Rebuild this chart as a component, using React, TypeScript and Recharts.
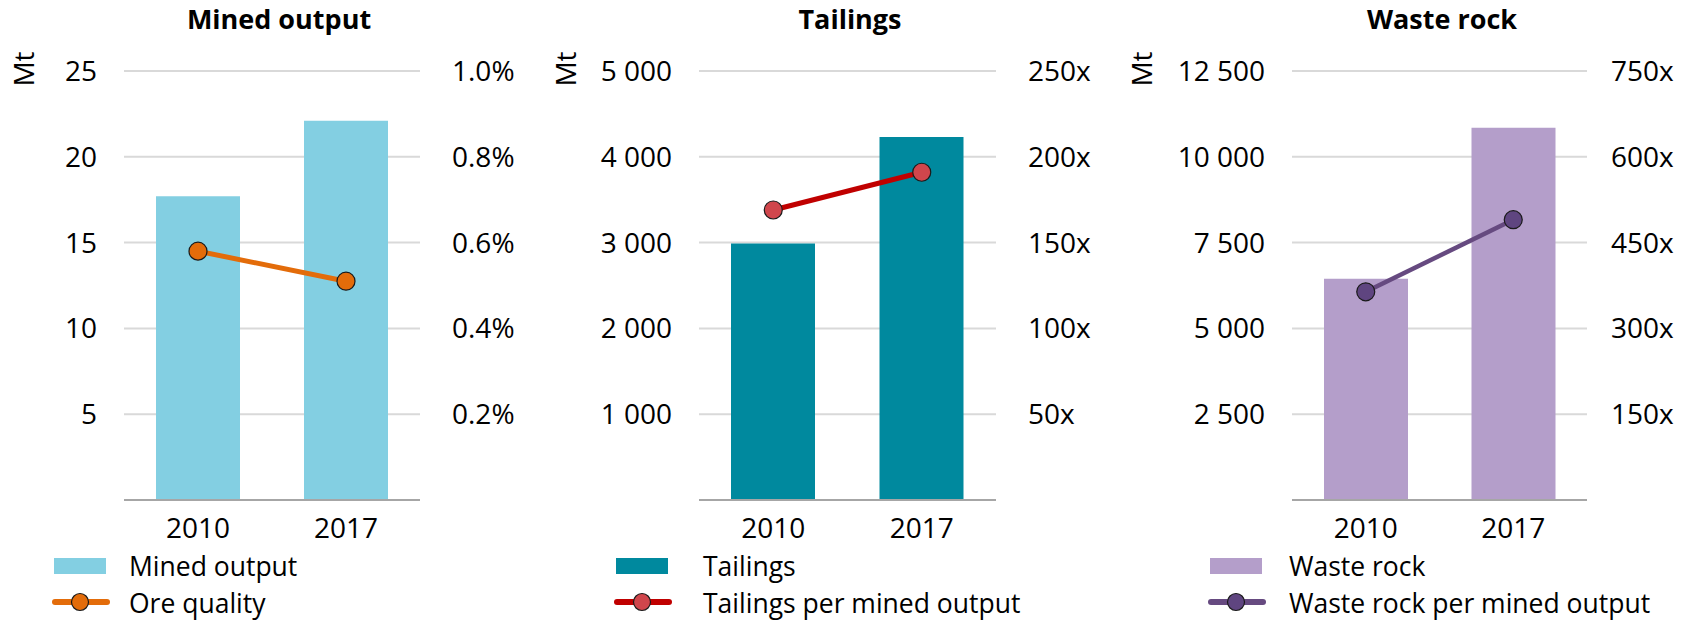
import React from "react";
import { ComposedChart, Bar, Line, XAxis, YAxis, CartesianGrid } from "recharts";

const years = ["2010", "2017"];
const minedOutput = [17.7, 22.1];
const oreQuality = [0.58, 0.51];
const tailings = [2990, 4230];
const tailingsPerOutput = [169, 191];
const wasteRock = [6450, 10850];
const wastePerOutput = [364, 490];

const minedTicks = [0, 5, 10, 15, 20, 25];
const qualityTicks = [0.2, 0.4, 0.6, 0.8, 1.0];
const tailingsTicks = [0, 1000, 2000, 3000, 4000, 5000];
const tailingsRatioTicks = [50, 100, 150, 200, 250];
const wasteTicks = [0, 2500, 5000, 7500, 10000, 12500];
const wasteRatioTicks = [150, 300, 450, 600, 750];

const FONT = "'Open Sans', 'Noto Sans', sans-serif";
const FS = 28;
const LEGEND_FS = 26.5;

const spaced = (v: number) =>
  v === 0 ? "" : String(v).replace(/\B(?=(\d{3})+(?!\d))/g, " ");

type PanelProps = {
  left: number;
  width: number;
  leftAxisW: number;
  rightAxisW: number;
  rightGap: number;
  bars: number[];
  line: number[];
  barColor: string;
  lineColor: string;
  dotColor: string;
  lineWidth: number;
  leftTicks: number[];
  rightTicks: number[];
  rightFmt: (v: number) => string;
};

function Panel(p: PanelProps) {
  const data = years.map((y, i) => ({ year: y, bar: p.bars[i], line: p.line[i] }));
  const leftMax = p.leftTicks[p.leftTicks.length - 1];
  const rightMax = p.rightTicks[p.rightTicks.length - 1];
  return (
    <div style={{ position: "absolute", left: p.left, top: 0 }}>
      <ComposedChart
        width={p.width}
        height={621}
        data={data}
        margin={{ top: 71, right: 0, bottom: 81, left: 0 }}
      >
        <CartesianGrid
          vertical={false}
          yAxisId="left"
          stroke="#d9d9d9"
          strokeWidth={2}
        />
        <XAxis
          dataKey="year"
          height={40}
          tickLine={false}
          tickSize={0}
          tickMargin={18}
          axisLine={{ stroke: "#a6a6a6", strokeWidth: 2 }}
          tick={{ fill: "#000", fontSize: FS }}
        />
        <YAxis
          yAxisId="left"
          width={p.leftAxisW}
          domain={[0, leftMax]}
          ticks={p.leftTicks}
          tickFormatter={spaced}
          axisLine={false}
          tickLine={false}
          tickSize={0}
          tickMargin={27}
          interval={0}
          tick={{ fill: "#000", fontSize: FS }}
        />
        <YAxis
          yAxisId="right"
          orientation="right"
          width={p.rightAxisW}
          domain={[0, rightMax]}
          ticks={p.rightTicks}
          tickFormatter={p.rightFmt}
          axisLine={false}
          tickLine={false}
          tickSize={0}
          tickMargin={p.rightGap}
          interval={0}
          tick={{ fill: "#000", fontSize: FS, textAnchor: "start" }}
        />
        <Bar
          yAxisId="left"
          dataKey="bar"
          fill={p.barColor}
          barSize={84}
          isAnimationActive={false}
        />
        <Line
          yAxisId="right"
          dataKey="line"
          stroke={p.lineColor}
          strokeWidth={p.lineWidth}
          dot={{ r: 9, fill: p.dotColor, stroke: "#1a1a1a", strokeWidth: 1.2 }}
          activeDot={false}
          isAnimationActive={false}
        />
      </ComposedChart>
    </div>
  );
}

type LegendProps = {
  x: number;
  textX: number;
  barColor: string;
  lineColor: string;
  dotColor: string;
  barLabel: string;
  lineLabel: string;
};

function LegendBlock(l: LegendProps) {
  return (
    <g>
      <rect x={l.x} y={558} width={52} height={16} fill={l.barColor} />
      <text x={l.textX} y={576} fontSize={LEGEND_FS} fill="#000">
        {l.barLabel}
      </text>
      <line
        x1={l.x + 1}
        x2={l.x + 53}
        y1={602}
        y2={602}
        stroke={l.lineColor}
        strokeWidth={6}
        strokeLinecap="round"
      />
      <circle cx={l.x + 26} cy={602} r={8.5} fill={l.dotColor} stroke="#1a1a1a" strokeWidth={1.2} />
      <text x={l.textX} y={613} fontSize={LEGEND_FS} fill="#000">
        {l.lineLabel}
      </text>
    </g>
  );
}

export default function App() {
  return (
    <div
      style={{
        position: "absolute",
        left: 0,
        top: 0,
        width: 1699,
        height: 621,
        background: "#fff",
        fontFamily: FONT,
        overflow: "hidden",
      }}
    >
      <Panel
        left={0}
        width={560}
        leftAxisW={124}
        rightAxisW={140}
        rightGap={32}
        bars={minedOutput}
        line={oreQuality}
        barColor="#83cfe2"
        lineColor="#e36c0a"
        dotColor="#e36c0a"
        lineWidth={5}
        leftTicks={minedTicks}
        rightTicks={qualityTicks}
        rightFmt={(v) => `${v.toFixed(1)}%`}
      />
      <Panel
        left={560}
        width={580}
        leftAxisW={139}
        rightAxisW={144}
        rightGap={32}
        bars={tailings}
        line={tailingsPerOutput}
        barColor="#00899e"
        lineColor="#c00000"
        dotColor="#d0464c"
        lineWidth={5}
        leftTicks={tailingsTicks}
        rightTicks={tailingsRatioTicks}
        rightFmt={(v) => `${v}x`}
      />
      <Panel
        left={1140}
        width={559}
        leftAxisW={152}
        rightAxisW={112}
        rightGap={24}
        bars={wasteRock}
        line={wastePerOutput}
        barColor="#b49eca"
        lineColor="#664a80"
        dotColor="#5f4580"
        lineWidth={4.5}
        leftTicks={wasteTicks}
        rightTicks={wasteRatioTicks}
        rightFmt={(v) => `${v}x`}
      />
      <svg
        width={1699}
        height={621}
        style={{ position: "absolute", left: 0, top: 0, pointerEvents: "none" }}
      >
        <g fontWeight="bold" fontSize={27} textAnchor="middle" fill="#000">
          <text x={279} y={29}>Mined output</text>
          <text x={850} y={29}>Tailings</text>
          <text x={1442} y={29}>Waste rock</text>
        </g>
        <g fontSize={FS} fill="#000" textAnchor="middle" dominantBaseline="central">
          <text x={23} y={69} transform="rotate(-90 23 69)">Mt</text>
          <text x={565} y={69} transform="rotate(-90 565 69)">Mt</text>
          <text x={1141} y={69} transform="rotate(-90 1141 69)">Mt</text>
        </g>
        <LegendBlock
          x={54}
          textX={129}
          barColor="#83cfe2"
          lineColor="#e36c0a"
          dotColor="#e36c0a"
          barLabel="Mined output"
          lineLabel="Ore quality"
        />
        <LegendBlock
          x={616}
          textX={703}
          barColor="#00899e"
          lineColor="#c00000"
          dotColor="#d0464c"
          barLabel="Tailings"
          lineLabel="Tailings per mined output"
        />
        <LegendBlock
          x={1210}
          textX={1289}
          barColor="#b49eca"
          lineColor="#664a80"
          dotColor="#5f4580"
          barLabel="Waste rock"
          lineLabel="Waste rock per mined output"
        />
      </svg>
    </div>
  );
}
